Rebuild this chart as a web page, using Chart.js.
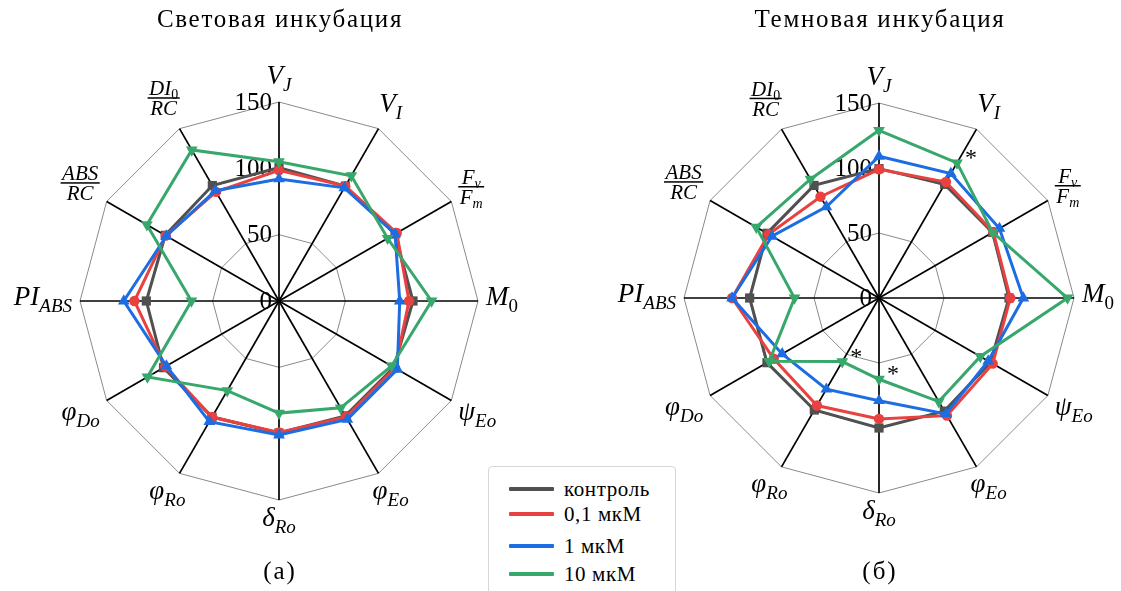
<!DOCTYPE html>
<html>
<head>
<meta charset="utf-8">
<script src="https://cdn.jsdelivr.net/npm/chart.js@4/dist/chart.umd.min.js"></script>
<style>
  html, body { margin: 0; padding: 0; background: #fff; }
  #wrap { position: relative; width: 1121px; height: 591px; overflow: hidden;
          font-family: "Liberation Serif", "DejaVu Serif", serif; color: #000; }
  canvas { position: absolute; top: 0; }
  #cLight { left: 0; }
  #cDark { left: 560px; }
  .title { position: absolute; top: 5px; width: 400px; text-align: center;
           font-size: 25px; letter-spacing: 1.7px; white-space: nowrap; }
  .cap { position: absolute; top: 557px; width: 100px; text-align: center; font-size: 25px; letter-spacing: 2px; }
  #legend { position: absolute; left: 488px; top: 466px; width: 186px; height: 150px;
            border: 1px solid #d6d6d6; border-radius: 4px; background: #fff; z-index: 5; }
  .lrow { position: absolute; left: 0; height: 0; }
  .lline { position: absolute; left: 20px; width: 45px; height: 4px; top: -2px; border-radius: 1px; }
  .ltext { position: absolute; left: 75px; top: -13px; font-size: 21px; letter-spacing: 0.6px;
           white-space: nowrap; line-height: 26px; }
</style>
</head>
<body>
<div id="wrap">
  <canvas id="cLight" width="560" height="591"></canvas>
  <canvas id="cDark" width="561" height="591"></canvas>
  <div class="title" style="left:80px">Световая инкубация</div>
  <div class="title" style="left:680px">Темновая инкубация</div>
  <div class="cap" style="left:230px">(а)</div>
  <div class="cap" style="left:830px">(б)</div>
  <div id="legend"></div>
</div>
<script>
// Axes of the radar, clockwise from the top ("_" = subscript, "/" = fraction)
const categories = ['V_J', 'V_I', 'F_v/F_m', 'M_0', 'ψ_Eo', 'φ_Eo', 'δ_Ro', 'φ_Ro', 'φ_Do', 'PI_ABS', 'ABS/RC', 'DI_0/RC'];
const tickValues = [0, 50, 100, 150];
const seriesNames = ['контроль', '0,1 мкМ', '1 мкМ', '10 мкМ'];
const seriesColors = ['#505050', '#e8413f', '#1c6de2', '#37a76b'];

// Light incubation, % of control
const lightControl = [100.5, 100, 101, 101, 100, 100, 99.5, 101, 100.5, 100, 99, 100.5];
const lightC01     = [98.5, 100, 102.5, 98, 101, 101, 99, 101, 99, 109, 98.5, 95];
const lightC1      = [92, 98.5, 101, 91, 103, 103, 101, 105, 98, 117, 98, 96];
const lightC10     = [105, 109, 94.5, 115, 98, 93, 84.5, 78, 114.5, 66, 115, 131.5];

// Dark incubation, % of control
const darkControl = [99.5, 101, 101, 100, 99, 100.5, 100, 99.5, 99.5, 99.5, 99.5, 100];
const darkC01     = [99, 103, 101.5, 101, 101, 104.5, 93, 95.5, 93.5, 113, 98, 90];
const darkC1      = [109, 110.5, 107, 111, 97, 103, 79, 81, 86, 113, 95, 81];
const darkC10     = [129, 120, 101, 145, 90, 92, 62.5, 56.5, 97.5, 65, 109, 105.5];
// significant differences (*) for 10 мкМ in the dark
const darkMarks10 = [0, 1, 0, 0, 0, 0, 1, 1, 0, 0, 0, 0];

const markerStyles = [
  { pointStyle: 'rect', pointRadius: 6.5, pointRotation: 0 },
  { pointStyle: 'circle', pointRadius: 5.2, pointRotation: 0 },
  { pointStyle: 'triangle', pointRadius: 6.8, pointRotation: 0 },
  { pointStyle: 'triangle', pointRadius: 6.8, pointRotation: 180 }
];

const ROMAN = '"Liberation Serif", "DejaVu Serif", serif';

function makeDatasets(values) {
  return values.map((v, k) => Object.assign({
    label: seriesNames[k],
    data: v,
    borderColor: seriesColors[k],
    backgroundColor: seriesColors[k],
    pointBackgroundColor: seriesColors[k],
    pointBorderColor: seriesColors[k],
    pointBorderWidth: 0,
    borderWidth: 3,
    fill: false,
    tension: 0,
    order: 3 - k
  }, markerStyles[k]));
}

// ---- math-like label drawing (italic base, subscript, fractions) ----
function fontFor(str, size) {
  return (/^[0-9]+$/.test(str) ? '' : 'italic ') + size + 'px ' + ROMAN;
}
function exprParts(expr) {
  const i = expr.indexOf('_');
  return i < 0 ? { base: expr, sub: '' } : { base: expr.slice(0, i), sub: expr.slice(i + 1) };
}
function exprWidth(ctx, expr, size, subSize) {
  const p = exprParts(expr);
  ctx.font = fontFor(p.base, size);
  let w = ctx.measureText(p.base).width;
  if (p.sub) { ctx.font = fontFor(p.sub, subSize); w += ctx.measureText(p.sub).width; }
  return w;
}
function drawExpr(ctx, expr, x, y, size, subSize, subShift) {
  const p = exprParts(expr);
  ctx.font = fontFor(p.base, size);
  ctx.fillText(p.base, x, y);
  const bw = ctx.measureText(p.base).width;
  if (p.sub) {
    ctx.font = fontFor(p.sub, subSize);
    ctx.fillText(p.sub, x + bw, y + subShift);
  }
}
// returns a layout box {w, top, bottom, draw(cx, cy)}
function labelBox(ctx, label) {
  if (label.indexOf('/') >= 0) {
    const [num, den] = label.split('/');
    const fs = 21, ss = 14, sh = 4;
    const wn = exprWidth(ctx, num, fs, ss), wd = exprWidth(ctx, den, fs, ss);
    const w = Math.max(wn, wd) + 3;
    const top = -2.5 - 0.7 * fs, bottom = 17.5 + 0.3 * fs;
    return {
      w, top, bottom,
      draw(cx, cy) {
        const bar = cy - (top + bottom) / 2;
        drawExpr(ctx, num, cx - wn / 2, bar - 2.5, fs, ss, sh);
        drawExpr(ctx, den, cx - wd / 2, bar + 17.5, fs, ss, sh);
        ctx.fillRect(cx - w / 2, bar - 0.7, w, 1.5);
      }
    };
  }
  const S = 27, s = 19, sh = 7;
  const w = exprWidth(ctx, label, S, s);
  const top = -0.68 * S, bottom = sh + 0.15 * s;
  return {
    w, top, bottom,
    draw(cx, cy) {
      const base = cy - (top + bottom) / 2;
      drawExpr(ctx, label, cx - w / 2, base, S, s, sh);
    }
  };
}

function radarTextPlugin(marks) {
  return {
    id: 'radarText',
    beforeDatasetsDraw(chart) {
      const r = chart.scales.r, ctx = chart.ctx;
      ctx.save();
      ctx.fillStyle = '#000';
      ctx.font = '25px ' + ROMAN;
      ctx.textAlign = 'right';
      ctx.textBaseline = 'middle';
      tickValues.forEach(v => {
        const d = r.getDistanceFromCenterForValue(v);
        ctx.fillText(String(v), r.xCenter - 7, r.yCenter - d + 1);
      });
      ctx.restore();
    },
    afterDraw(chart) {
      const r = chart.scales.r, ctx = chart.ctx;
      ctx.save();
      ctx.fillStyle = '#000';
      ctx.textAlign = 'left';
      ctx.textBaseline = 'alphabetic';
      const gap = 8;
      chart.data.labels.forEach((lab, i) => {
        const box = labelBox(ctx, lab);
        const h = box.bottom - box.top;
        const a = r.getIndexAngle(i);
        const sa = Math.abs(Math.sin(a)), ca = Math.abs(Math.cos(a));
        const ext = Math.min(sa > 1e-6 ? box.w / 2 / sa : Infinity, ca > 1e-6 ? h / 2 / ca : Infinity);
        const pos = r.getPointPosition(i, r.drawingArea + gap + ext);
        box.draw(pos.x, pos.y);
      });
      if (marks) {
        const meta = chart.getDatasetMeta(3);
        ctx.font = '24px ' + ROMAN;
        ctx.textAlign = 'center';
        marks.forEach((m, i) => {
          if (!m) return;
          const pt = meta.data[i];
          ctx.fillText('*', pt.x + 14, pt.y - 9 + 11);
        });
      }
      ctx.restore();
    }
  };
}

function makeChart(id, values, padding, marks) {
  return new Chart(document.getElementById(id), {
    type: 'radar',
    data: { labels: categories, datasets: makeDatasets(values) },
    options: {
      responsive: false,
      animation: false,
      events: [],
      layout: { padding },
      plugins: { legend: { display: false }, tooltip: { enabled: false }, title: { display: false } },
      elements: { line: { borderJoinStyle: 'miter' } },
      scales: {
        r: {
          min: 0, max: 150,
          ticks: { stepSize: 50, display: false },
          grid: { color: '#8a8a8a', lineWidth: 1 },
          angleLines: { color: '#000', lineWidth: 1.7 },
          pointLabels: { display: false }
        }
      }
    },
    plugins: [radarTextPlugin(marks)]
  });
}

makeChart('cLight', [lightControl, lightC01, lightC1, lightC10],
  { left: 80, top: 102, right: 82, bottom: 91 }, null);
makeChart('cDark', [darkControl, darkC01, darkC1, darkC10],
  { left: 124, top: 103, right: 47, bottom: 98 }, darkMarks10);

// shared legend
const rowY = [22, 47, 79, 107];
const legend = document.getElementById('legend');
seriesNames.forEach((name, k) => {
  const row = document.createElement('div');
  row.className = 'lrow';
  row.style.top = rowY[k] + 'px';
  row.innerHTML = '<div class="lline" style="background:' + seriesColors[k] + '"></div>' +
                  '<div class="ltext">' + name + '</div>';
  legend.appendChild(row);
});
</script>
</body>
</html>
